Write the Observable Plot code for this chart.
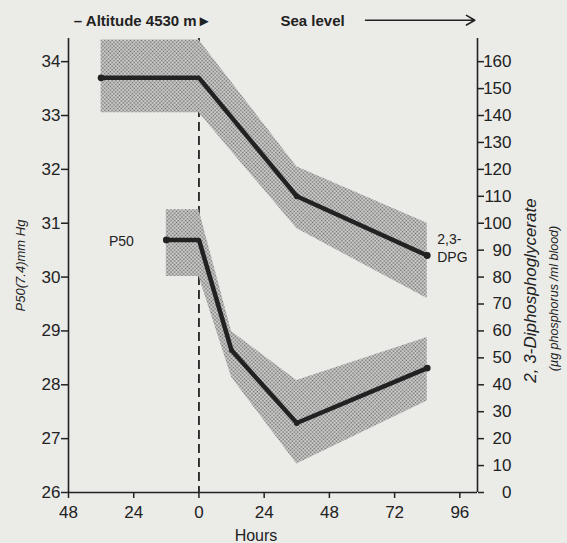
<!DOCTYPE html>
<html>
<head>
<meta charset="utf-8">
<script src="https://cdn.jsdelivr.net/npm/d3@7"></script>
<script src="https://cdn.jsdelivr.net/npm/@observablehq/plot@0.6"></script>
<style>
  html, body { margin: 0; padding: 0; background: #ebebe8; }
  #chart { width: 567px; height: 543px; }
</style>
</head>
<body>
<div id="chart"></div>
<script>
// ---- data ----
const hoursDPG = [-36, 0, 36, 84];
const dpgMean  = [154, 154, 110, 88];
const dpgLow   = [141, 141, 98, 72];
const dpgHigh  = [168, 168, 121, 100];

const hoursP50 = [-12, 0, 12, 36, 84];
const p50Mean  = [30.69, 30.69, 28.64, 27.29, 28.31];
const p50Low   = [30.01, 30.01, 28.14, 26.53, 27.70];
const p50High  = [31.25, 31.25, 28.99, 28.08, 28.88];

const xTicks = [-48, -24, 0, 24, 48, 72, 96];
const leftTicks = [26, 27, 28, 29, 30, 31, 32, 33, 34];
const rightTicks = [0, 10, 20, 30, 40, 50, 60, 70, 80, 90, 100, 110, 120, 130, 140, 150, 160];

const xDomain = [-48, 102.5];
const yDomain = [26, 34.43];

// right axis (µg P/ml) -> left axis (mm Hg) units
const toLeft = v => v / 20 + 26;
const fromLeft = v => Math.round((v - 26) * 20);

const dpg = hoursDPG.map((h, i) => ({h, mean: toLeft(dpgMean[i]), lo: toLeft(dpgLow[i]), hi: toLeft(dpgHigh[i])}));
const p50 = hoursP50.map((h, i) => ({h, mean: p50Mean[i], lo: p50Low[i], hi: p50High[i]}));

const ink = "#222";
const stipple = "url(#stipple)";

const chart = Plot.plot({
  width: 567,
  height: 543,
  marginLeft: 68,
  marginRight: 90,
  marginTop: 38,
  marginBottom: 51,
  x: {domain: xDomain, label: null},
  y: {domain: yDomain, label: null},
  style: {background: "transparent", fontFamily: "'Liberation Sans', Arial, sans-serif", color: ink},
  marks: [
    Plot.ruleX([0], {stroke: ink, strokeWidth: 1.8, strokeDasharray: "9,5"}),
    Plot.areaY(dpg, {x: "h", y1: "lo", y2: "hi", fill: stipple}),
    Plot.areaY(p50, {x: "h", y1: "lo", y2: "hi", fill: stipple}),
    Plot.line(dpg, {x: "h", y: "mean", stroke: ink, strokeWidth: 4.5}),
    Plot.line(p50, {x: "h", y: "mean", stroke: ink, strokeWidth: 4.5}),
    Plot.dot(dpg.filter(d => d.h !== 0), {x: "h", y: "mean", r: d => (d.h === 36 ? 4 : 5.5), fill: ink}),
    Plot.dot(p50.filter(d => d.h !== 0), {x: "h", y: "mean", r: d => (d.h === 12 ? 3 : d.h === 36 ? 4 : 5.5), fill: ink}),
    Plot.ruleX([xDomain[0], xDomain[1]], {stroke: ink, strokeWidth: 1.6}),
    Plot.ruleY([yDomain[0]], {stroke: ink, strokeWidth: 1.6}),
    Plot.axisX(xTicks, {tickSize: 6, tickPadding: 7, tickFormat: d => Math.abs(d), fontSize: 17, label: null, stroke: ink, strokeWidth: 1.5}),
    Plot.axisY(leftTicks, {anchor: "left", tickSize: 7, tickPadding: 1, tickFormat: d => String(d), fontSize: 17, label: null, stroke: ink, strokeWidth: 1.5}),
    Plot.axisY(rightTicks.map(toLeft), {anchor: "right", tickSize: 6, tickFormat: () => "", label: null, stroke: ink, strokeWidth: 1.5}),
    Plot.axisY(rightTicks.map(toLeft), {anchor: "right", tickSize: 0, tickPadding: 0, textAnchor: "end", dx: 34, tickFormat: fromLeft, fontSize: 17, label: null}),
    Plot.text(["Hours"], {x: 21, frameAnchor: "bottom", dy: 43, fontSize: 16, textAnchor: "middle", lineAnchor: "middle"}),
    Plot.text(["P50(7.4)mm Hg"], {frameAnchor: "left", dx: -48, rotate: -90, fontStyle: "italic", fontSize: 13, textAnchor: "middle", lineAnchor: "middle"}),
    Plot.text(["2, 3-Diphosphoglycerate"], {frameAnchor: "right", dx: 53, dy: 25, rotate: -90, fontStyle: "italic", fontSize: 17, textAnchor: "middle", lineAnchor: "middle"}),
    Plot.text(["(µg phosphorus /ml blood)"], {frameAnchor: "right", dx: 76, dy: 33, rotate: -90, fontStyle: "italic", fontSize: 12.5, textAnchor: "middle", lineAnchor: "middle"}),
    Plot.text([p50[0]], {x: "h", y: "mean", text: () => "P50", dx: -45, dy: 2, fontSize: 14, textAnchor: "middle"}),
    Plot.text([dpg[dpg.length - 1]], {x: "h", y: "mean", text: () => "2,3-\nDPG", dx: 10, dy: -8, fontSize: 14, textAnchor: "start", lineHeight: 1.25}),
    Plot.text(["– Altitude 4530 m►"], {x: -20.7, frameAnchor: "top", dy: -23, fontSize: 15, fontWeight: "bold", textAnchor: "middle"}),
    Plot.text(["Sea level"], {x: 41.8, frameAnchor: "top", dy: -23, fontSize: 15, fontWeight: "bold", textAnchor: "middle"}),
    Plot.arrow([0], {x1: 61.3, x2: 101.5, y1: 34.77, y2: 34.77, stroke: ink, strokeWidth: 1.6, headLength: 9})
  ]
});

d3.select(chart).insert("defs", ":first-child").html(`
  <pattern id="stipple" width="2.6" height="2.6" patternUnits="userSpaceOnUse" patternTransform="rotate(45)">
    <rect width="2.6" height="2.6" fill="#d3d3d1"></rect>
    <circle cx="1.3" cy="1.3" r="0.85" fill="#666"></circle>
  </pattern>`);

document.getElementById("chart").appendChild(chart);
</script>
</body>
</html>
